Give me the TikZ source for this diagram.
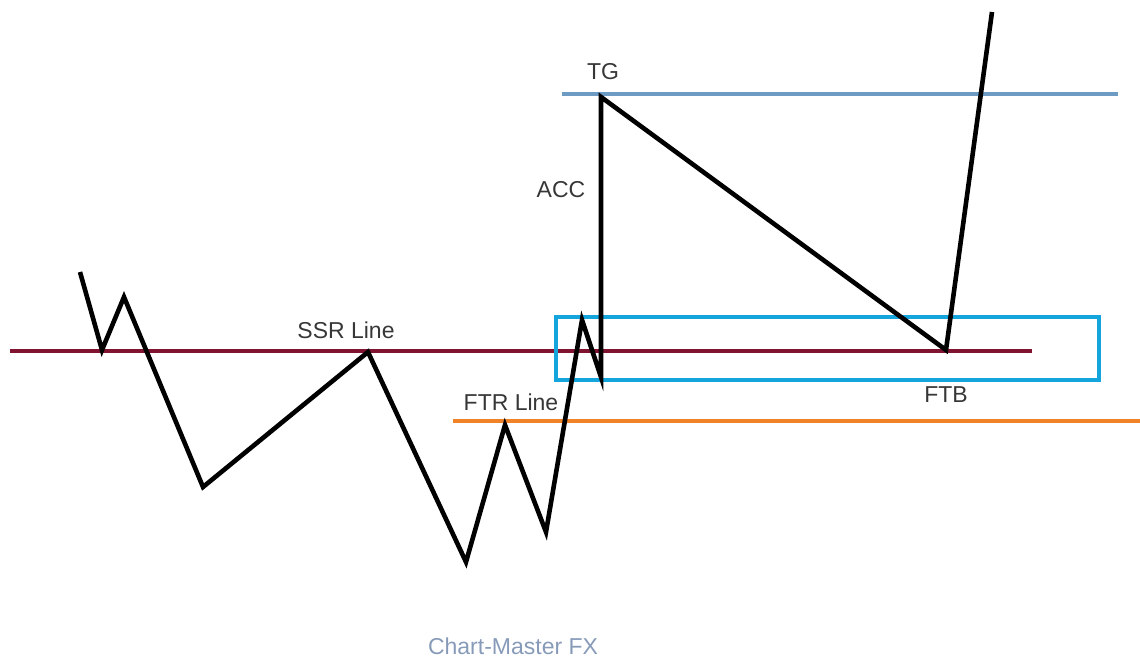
\documentclass[tikz,border=0pt]{standalone}
\usepackage{fontspec}
\setmainfont{Liberation Sans}
\usepackage{tikz}
\definecolor{ssrred}{RGB}{128,20,48}
\definecolor{tgblue}{RGB}{110,155,195}
\definecolor{ftrorange}{RGB}{240,130,40}
\definecolor{boxcyan}{RGB}{20,165,220}
\definecolor{labelgray}{RGB}{55,55,55}
\definecolor{brandgray}{RGB}{135,155,185}

\begin{document}
\begin{tikzpicture}[x=0.5pt, y=-0.5pt,
  every node/.style = {font=\fontsize{11.5}{13}\selectfont, text=labelgray, inner sep=1pt},
  price/.style = {line width=2.3pt, black, line join=miter},
  level/.style = {line width=1.6pt}]
  \useasboundingbox (0,0) rectangle (1140,658);
  % zigzag points
  \coordinate (p0) at (80,272);
  \coordinate (p1) at (102,350);
  \coordinate (p2) at (124,297);
  \coordinate (p3) at (203,487);
  \coordinate (p4) at (368,352);
  \coordinate (p5) at (466,562);
  \coordinate (p6) at (505,425);
  \coordinate (p7) at (546,532);
  \coordinate (p8) at (582,320);
  \coordinate (p9) at (601,377);
  \coordinate (tg) at (601,97);
  \coordinate (ftb) at (946,350);
  \coordinate (p12) at (992,12);
  % level lines
  \coordinate (ssrA) at (10,351);   \coordinate (ssrB) at (1032,351);
  \coordinate (tgA) at (562,94);    \coordinate (tgB) at (1118,94);
  \coordinate (ftrA) at (453,421);  \coordinate (ftrB) at (1140,421);
  \draw[level, ssrred, line width=2pt] (ssrA) -- (ssrB);
  \draw[level, tgblue] (tgA) -- (tgB);
  \draw[level, ftrorange] (ftrA) -- (ftrB);
  \draw[level, boxcyan, line width=1.8pt] (556,317) rectangle (1099,380);
  \draw[price] (p0) -- (p1) -- (p2) -- (p3) -- (p4) -- (p5) -- (p6) -- (p7)
    -- (p8) -- (p9) -- (tg) -- (ftb) -- (p12);
  % labels
  \node (ssr) at (346,330) {SSR Line};
  \node (ftr) at (511,402) {FTR Line};
  \node (tgl) at (603,72) {TG};
  \node (acc) at (561,190) {ACC};
  \node (ftbl) at (946,395) {FTB};
  \node[text=brandgray] (brand) at (513,646) {Chart-Master FX};
\end{tikzpicture}
\end{document}
